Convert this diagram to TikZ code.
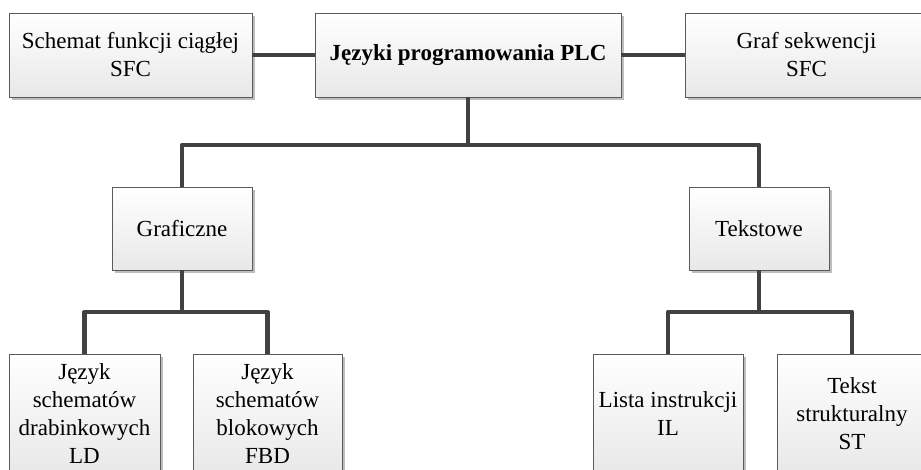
\documentclass[tikz,border=0pt]{standalone}
\usepackage{fontspec}
\setmainfont{Liberation Serif}
\usetikzlibrary{shadows}
\definecolor{linkgray}{HTML}{414141}
\definecolor{edgegray}{HTML}{5A5A5A}
\definecolor{shadegray}{HTML}{BDBDBD}
\tikzset{
  box/.style={draw=edgegray, line width=0.9pt, top color=white, bottom color=black!9,
    inner sep=0pt, align=center, font=\fontsize{23}{28}\selectfont,
    drop shadow={shadow xshift=3pt, shadow yshift=-3pt, fill=shadegray, opacity=1}},
  link/.style={draw=linkgray, line width=4.5pt, line join=round}
}
\begin{document}
\begin{tikzpicture}[x=1pt, y=-1pt]
  \useasboundingbox (0,0) rectangle (921,470);

  % top row
  \node[box, minimum width=243pt, minimum height=84pt] (sfcc) at (130.5,55)
    {Schemat funkcji ciągłej\\SFC};
  \node[box, minimum width=306pt, minimum height=84pt] (root) at (468,55)
    {\textbf{Języki programowania PLC}};
  \node[box, minimum width=243pt, minimum height=84pt] (sfcs) at (806.5,55)
    {Graf sekwencji\\SFC};

  % middle row
  \node[box, minimum width=140pt, minimum height=83pt] (graf) at (182,228.5) {Graficzne};
  \node[box, minimum width=140pt, minimum height=83pt] (tekst) at (759,228.5) {Tekstowe};

  % bottom row
  \node[box, minimum width=151pt, minimum height=120pt] (ld) at (84.5,414)
    {Język\\schematów\\drabinkowych\\LD};
  \node[box, minimum width=149pt, minimum height=120pt] (fbd) at (267.5,414)
    {Język\\schematów\\blokowych\\FBD};
  \node[box, minimum width=150pt, minimum height=120pt] (il) at (668,414)
    {Lista instrukcji\\IL};
  \node[box, minimum width=150pt, minimum height=120pt] (st) at (852,414)
    {Tekst\\strukturalny\\ST};

  % junction points of the tree
  \coordinate (j1) at (468,145);
  \coordinate (j2) at (182,312);
  \coordinate (j3) at (759,312);

  % connectors
  \draw[link] (sfcc.east) -- (root.west);
  \draw[link] (root.east) -- (sfcs.west);
  \draw[link] (root.south) -- (j1);
  \draw[link] (j1) -| (graf.north);
  \draw[link] (j1) -| (tekst.north);
  \draw[link] (graf.south) -- (j2);
  \draw[link] (j2) -| (ld.north);
  \draw[link] (j2) -| (fbd.north);
  \draw[link] (tekst.south) -- (j3);
  \draw[link] (j3) -| (il.north);
  \draw[link] (j3) -| (st.north);
\end{tikzpicture}
\end{document}
